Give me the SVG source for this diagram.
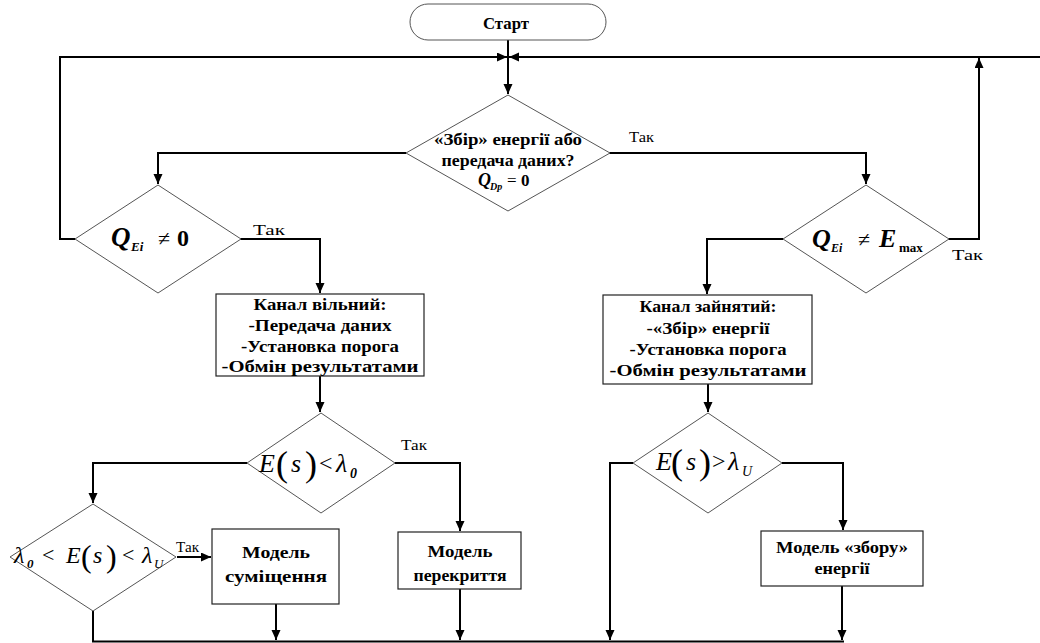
<svg xmlns="http://www.w3.org/2000/svg" width="1040" height="643" viewBox="0 0 1040 643">
<style>
.t{font-family:"Liberation Serif","DejaVu Serif","Times New Roman",serif;fill:#000}
.b{font-weight:bold;font-size:17px}
.yes{font-size:14px}
.i{font-style:italic}
.shape{fill:#fff;stroke:#555;stroke-width:1}
.box{fill:#fff;stroke:#222;stroke-width:1.2}
.c{fill:none;stroke:#000;stroke-width:2}
</style>
<defs>
<marker id="ah" markerUnits="userSpaceOnUse" markerWidth="10" markerHeight="10" refX="10" refY="4.5" orient="auto">
<path d="M0,0 L10,4.5 L0,9 z" fill="#000"/>
</marker>
</defs>
<g id="connectors">
<path class="c" d="M508,40 V94" marker-end="url(#ah)"/>
<path class="c" d="M75,239 H60 V57 H507" marker-end="url(#ah)"/>
<path class="c" d="M1040,57 H509" marker-end="url(#ah)"/>
<path class="c" d="M406,153 H158 V184" marker-end="url(#ah)"/>
<path class="c" d="M609,153 H866 V184" marker-end="url(#ah)"/>
<path class="c" d="M240,239 H320 V293" marker-end="url(#ah)"/>
<path class="c" d="M783,239 H707 V294" marker-end="url(#ah)"/>
<path class="c" d="M948,239 H979 V58" marker-end="url(#ah)"/>
<path class="c" d="M320,376 V412" marker-end="url(#ah)"/>
<path class="c" d="M708,384 V412" marker-end="url(#ah)"/>
<path class="c" d="M247,463 H93 V503" marker-end="url(#ah)"/>
<path class="c" d="M395,463 H460 V531" marker-end="url(#ah)"/>
<path class="c" d="M633,463 H610 V640" marker-end="url(#ah)"/>
<path class="c" d="M782,463 H843 V530" marker-end="url(#ah)"/>
<path class="c" d="M177,557 H211" marker-end="url(#ah)"/>
<path class="c" d="M276,604 V640" marker-end="url(#ah)"/>
<path class="c" d="M460,589 V640" marker-end="url(#ah)"/>
<path class="c" d="M842,586 V640" marker-end="url(#ah)"/>
<path class="c" d="M93,611 V641.5 H844"/>
</g>
<g id="start">
<rect class="shape" x="410" y="4" width="196" height="36" rx="18" ry="18"/>
<text class="t b" x="506" y="29" text-anchor="middle" font-size="15" textLength="46" lengthAdjust="spacingAndGlyphs">Старт</text>
</g>
<g id="decision-main">
<polygon class="shape" points="508,95 610,153 508,211 406,153"/>
<text class="t b" x="508" y="145" text-anchor="middle" textLength="148" lengthAdjust="spacingAndGlyphs">«Збір» енергії або</text>
<text class="t b" x="508" y="166" text-anchor="middle" textLength="133" lengthAdjust="spacingAndGlyphs">передача даних?</text>
<text class="t i" x="478" y="186" font-size="18" font-weight="bold">Q</text>
<text class="t i" x="490" y="190" font-size="10" font-weight="bold">Dp</text>
<text class="t" x="507" y="186" font-size="17">=</text>
<text class="t" x="521" y="186" font-size="17" font-weight="bold">0</text>
<text class="t yes" x="629" y="142" textLength="25" lengthAdjust="spacingAndGlyphs">Так</text>
</g>
<g id="decision-qei-zero">
<polygon class="shape" points="158,185 241,239 158,293 75,239"/>
<text class="t i" x="111" y="246" font-size="27" font-weight="bold">Q</text>
<text class="t i" x="131" y="251" font-size="13" font-weight="bold">Ei</text>
<text class="t" x="158" y="246" font-size="22">≠</text>
<text class="t" x="177" y="246" font-size="24" font-weight="bold">0</text>
<text class="t yes" x="253" y="235" textLength="32" lengthAdjust="spacingAndGlyphs">Так</text>
</g>
<g id="decision-qei-emax">
<polygon class="shape" points="866,185 949,239 866,293 783,239"/>
<text class="t i" x="812" y="247" font-size="26" font-weight="bold">Q</text>
<text class="t i" x="831" y="252" font-size="12" font-weight="bold">Ei</text>
<text class="t" x="858" y="247" font-size="22">≠</text>
<text class="t i" x="879" y="247" font-size="26" font-weight="bold">E</text>
<text class="t" x="899" y="252" font-size="13" font-weight="bold">max</text>
<text class="t yes" x="952" y="260" textLength="31" lengthAdjust="spacingAndGlyphs">Так</text>
</g>
<g id="box-free">
<rect class="box" x="216" y="294" width="208" height="82"/>
<text class="t b" x="320" y="310" text-anchor="middle" textLength="133" lengthAdjust="spacingAndGlyphs">Канал вільний:</text>
<text class="t b" x="320" y="331" text-anchor="middle" textLength="143" lengthAdjust="spacingAndGlyphs">-Передача даних</text>
<text class="t b" x="320" y="352" text-anchor="middle" textLength="158" lengthAdjust="spacingAndGlyphs">-Установка порога</text>
<text class="t b" x="320" y="372" text-anchor="middle" textLength="197" lengthAdjust="spacingAndGlyphs">-Обмін результатами</text>
</g>
<g id="box-busy">
<rect class="box" x="603" y="295" width="209" height="89"/>
<text class="t b" x="708" y="312" text-anchor="middle" textLength="137" lengthAdjust="spacingAndGlyphs">Канал зайнятий:</text>
<text class="t b" x="708" y="334" text-anchor="middle" textLength="123" lengthAdjust="spacingAndGlyphs">-«Збір» енергії</text>
<text class="t b" x="708" y="355" text-anchor="middle" textLength="157" lengthAdjust="spacingAndGlyphs">-Установка порога</text>
<text class="t b" x="708" y="376" text-anchor="middle" textLength="197" lengthAdjust="spacingAndGlyphs">-Обмін результатами</text>
</g>
<g id="decision-es-lt-l0">
<polygon class="shape" points="321,413 395,463 321,513 247,463"/>
<text class="t i" x="259" y="472" font-size="26">E</text>
<text class="t" x="276" y="476" font-size="36">(</text>
<text class="t i" x="291" y="472" font-size="26">s</text>
<text class="t" x="305" y="476" font-size="36">)</text>
<text class="t" x="319" y="471" font-size="24">&lt;</text>
<text class="t i" x="336" y="472" font-size="26">λ</text>
<text class="t i" x="350" y="478" font-size="14" font-weight="bold">0</text>
<text class="t yes" x="401" y="450" textLength="26" lengthAdjust="spacingAndGlyphs">Так</text>
</g>
<g id="decision-range">
<polygon class="shape" points="93,504 176,557 93,611 10,557"/>
<text class="t i" x="14" y="563" font-size="24">λ</text>
<text class="t i" x="27" y="568" font-size="13" font-weight="bold">0</text>
<text class="t" x="42" y="562" font-size="22">&lt;</text>
<text class="t i" x="66" y="563" font-size="24">E</text>
<text class="t" x="81" y="567" font-size="32">(</text>
<text class="t i" x="93" y="563" font-size="24">s</text>
<text class="t" x="106" y="567" font-size="32">)</text>
<text class="t" x="122" y="562" font-size="22">&lt;</text>
<text class="t i" x="142" y="563" font-size="24">λ</text>
<text class="t i" x="154" y="568" font-size="13">U</text>
<text class="t yes" x="176" y="552" textLength="23" lengthAdjust="spacingAndGlyphs">Так</text>
</g>
<g id="decision-es-gt-lu">
<polygon class="shape" points="708,413 782,463 708,513 633,463"/>
<text class="t i" x="656" y="470" font-size="26">E</text>
<text class="t" x="671" y="474" font-size="36">(</text>
<text class="t i" x="686" y="470" font-size="26">s</text>
<text class="t" x="699" y="474" font-size="36">)</text>
<text class="t" x="712" y="469" font-size="24">&gt;</text>
<text class="t i" x="728" y="470" font-size="26">λ</text>
<text class="t i" x="742" y="476" font-size="14">U</text>
</g>
<g id="box-combine">
<rect class="box" x="212" y="529" width="127" height="75"/>
<text class="t b" x="276" y="558" text-anchor="middle" textLength="68" lengthAdjust="spacingAndGlyphs">Модель</text>
<text class="t b" x="276" y="582" text-anchor="middle" textLength="102" lengthAdjust="spacingAndGlyphs">суміщення</text>
</g>
<g id="box-overlay">
<rect class="box" x="398" y="532" width="123" height="57"/>
<text class="t b" x="460" y="557" text-anchor="middle" textLength="65" lengthAdjust="spacingAndGlyphs">Модель</text>
<text class="t b" x="460" y="581" text-anchor="middle" textLength="93" lengthAdjust="spacingAndGlyphs">перекриття</text>
</g>
<g id="box-harvest">
<rect class="box" x="761" y="531" width="162" height="55"/>
<text class="t b" x="842" y="553" text-anchor="middle" textLength="132" lengthAdjust="spacingAndGlyphs">Модель «збору»</text>
<text class="t b" x="842" y="574" text-anchor="middle" textLength="55" lengthAdjust="spacingAndGlyphs">енергії</text>
</g>
</svg>
